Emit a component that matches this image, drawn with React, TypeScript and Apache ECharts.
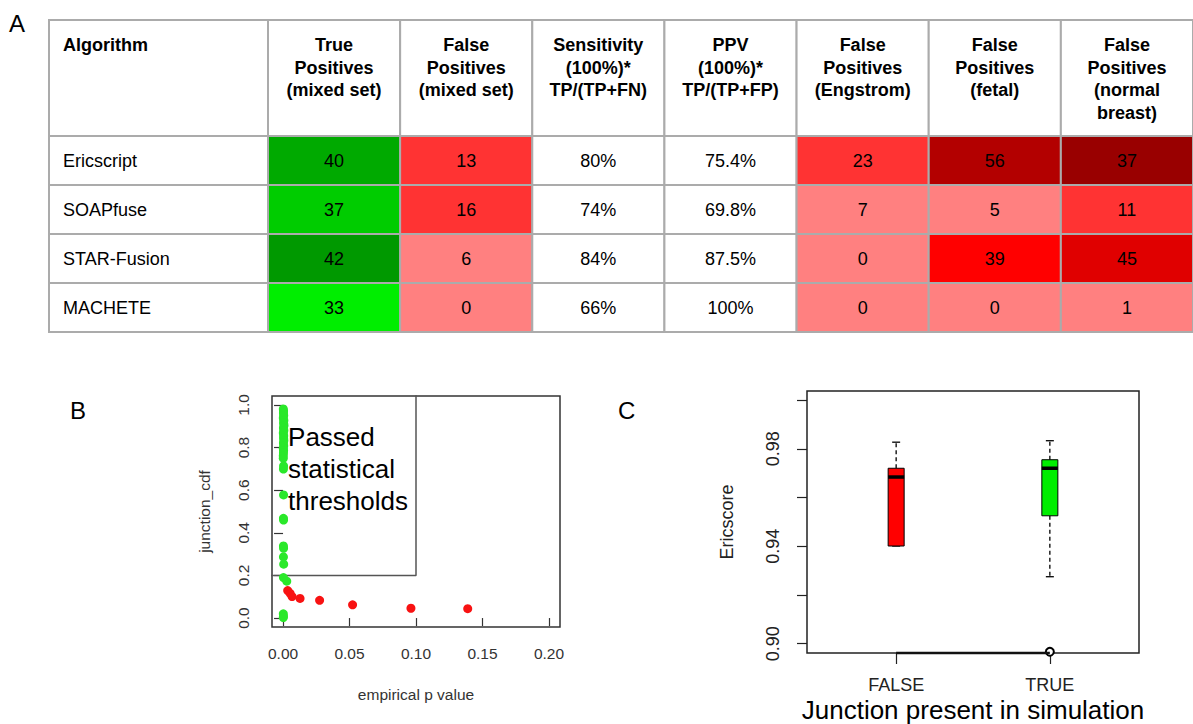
import React, { useEffect, useRef } from "react";
import * as echarts from "echarts";

// ---------- Panel A: table ----------
const algorithms = ["Ericscript", "SOAPfuse", "STAR-Fusion", "MACHETE"];
const algorithmHeader = "Algorithm";
const metricHeaders = [
  "True\nPositives\n(mixed set)",
  "False\nPositives\n(mixed set)",
  "Sensitivity\n(100%)*\nTP/(TP+FN)",
  "PPV\n(100%)*\nTP/(TP+FP)",
  "False\nPositives\n(Engstrom)",
  "False\nPositives\n(fetal)",
  "False\nPositives\n(normal\nbreast)",
];
const truePositives = [40, 37, 42, 33];
const falsePositives = [13, 16, 6, 0];
const sensitivity = [80, 74, 84, 66];
const ppv = [75.4, 69.8, 87.5, 100];
const fpEngstrom = [23, 7, 0, 0];
const fpFetal = [56, 5, 39, 0];
const fpNormalBreast = [37, 11, 45, 1];
const percentColumns = [2, 3];

// cell fill colours (style only), one list per metric column
const cellColors = [
  ["#00aa00", "#00cc00", "#009900", "#00ee00"],
  ["#ff3333", "#ff3333", "#ff8080", "#ff8080"],
  ["#ffffff", "#ffffff", "#ffffff", "#ffffff"],
  ["#ffffff", "#ffffff", "#ffffff", "#ffffff"],
  ["#ff3333", "#ff8080", "#ff8080", "#ff8080"],
  ["#b30000", "#ff8080", "#ff0000", "#ff8080"],
  ["#990000", "#ff3333", "#e00000", "#ff8080"],
];

// ---------- Panel B: scatter ----------
const passedPoints: [number, number][] = [
  [0.0002, 0.981], [0.0004, 0.972], [0.0003, 0.962], [0.0005, 0.951],
  [0.0002, 0.939], [0.0006, 0.927], [0.0004, 0.915], [0.0007, 0.903],
  [0.0003, 0.892], [0.0006, 0.880], [0.0002, 0.868], [0.0005, 0.856],
  [0.0004, 0.845], [0.0006, 0.833], [0.0003, 0.821], [0.0005, 0.809],
  [0.0002, 0.797], [0.0004, 0.786], [0.0003, 0.774], [0.0002, 0.762],
  [0.0002, 0.750], [0.0004, 0.714], [0.0003, 0.699], [0.0004, 0.578],
  [0.0003, 0.468], [0.0004, 0.460], [0.0003, 0.338], [0.0004, 0.327],
  [0.0003, 0.287], [0.0005, 0.253], [0.0003, 0.190], [0.0028, 0.173],
  [0.0002, 0.020], [0.0003, 0.008], [0.0002, 0.002],
];
const failedPoints: [number, number][] = [
  [0.0035, 0.129], [0.0053, 0.116], [0.0068, 0.101], [0.0128, 0.092],
  [0.0275, 0.083], [0.0523, 0.062], [0.0962, 0.046], [0.1389, 0.044],
];
const thresholdP = 0.1;
const thresholdCdf = 0.2;
const pTicks = [0, 0.05, 0.1, 0.15, 0.2];
const cdfTicks = [0, 0.2, 0.4, 0.6, 0.8, 1.0];

// ---------- Panel C: boxplot ----------
const groups = ["FALSE", "TRUE"];
// [position, lower whisker, Q1, median, Q3, upper whisker]
const boxStats = [
  [1, 0.9401, 0.9401, 0.9684, 0.972, 0.9827],
  [2, 0.9275, 0.9525, 0.972, 0.9755, 0.9833],
];
const outliers: [number, number][] = [[2, 0.8967]];
const scoreTicks = [0.9, 0.92, 0.94, 0.96, 0.98, 1.0];
const scoreLabels = [0.9, 0.94, 0.98];
const boxColors = ["#ff0000", "#00ee00"];

const FONT = "'Liberation Sans', Arial, Helvetica, sans-serif";
const BORDER = "#ababab";

type CellText = { text: string; bold?: boolean; place: "center" | "top" | "topLeft" | "left" };

function cellRenderer(getFill: (d: number[]) => string, getText: (d: number[]) => CellText) {
  return (params: any, api: any) => {
    const c = api.value(0);
    const r = api.value(1);
    const d = [c, r, api.value(2)];
    const center = api.coord([c, r]);
    const size = api.size([1, 1]);
    const w = size[0];
    const h = size[1];
    const x0 = center[0] - w / 2;
    const y0 = center[1] - h / 2;
    const t = getText(d);
    const pad = 14;
    let tx = center[0];
    let ty = center[1];
    let align = "center";
    let vAlign = "middle";
    if (t.place === "top") { ty = y0 + pad; vAlign = "top"; }
    if (t.place === "topLeft") { tx = x0 + pad; ty = y0 + pad; vAlign = "top"; align = "left"; }
    if (t.place === "left") { tx = x0 + pad; align = "left"; }
    return {
      type: "group",
      children: [
        {
          type: "rect",
          shape: { x: x0, y: y0, width: w, height: h },
          style: { fill: getFill(d), stroke: BORDER, lineWidth: 2 },
        },
        {
          type: "text",
          x: tx, y: ty,
          style: {
            text: t.text, fill: "#000", fontSize: 18, fontFamily: FONT,
            fontWeight: t.bold ? "bold" : "normal", lineHeight: 22.5,
            align, verticalAlign: vAlign,
          },
        },
      ],
    };
  };
}

export default function App() {
  const ref = useRef<HTMLDivElement>(null);

  useEffect(() => {
    document.body.style.margin = "0";
    const chart = echarts.init(ref.current!, null, { renderer: "svg" });

    const metricColumns = [
      truePositives, falsePositives, sensitivity, ppv,
      fpEngstrom, fpFetal, fpNormalBreast,
    ];
    const bodyData: number[][] = [];
    metricColumns.forEach((col, c) => {
      col.forEach((v, r) => bodyData.push([c, r, v]));
    });

    const option: any = {
      animation: false,
      textStyle: { fontFamily: FONT },
      grid: [
        { left: 268, top: 20, width: 938, height: 116, show: false },
        { left: 268, top: 136, width: 938, height: 196, show: false },
        { left: 49, top: 20, width: 219, height: 116, show: false },
        { left: 49, top: 136, width: 219, height: 196, show: false },
        { left: 272, top: 396, width: 288, height: 231, show: true, borderColor: "#333", borderWidth: 1.5, backgroundColor: "transparent" },
        { left: 807, top: 391, width: 332, height: 264, show: true, borderColor: "#222", borderWidth: 1.5, backgroundColor: "transparent" },
      ],
      xAxis: [
        { type: "category", gridIndex: 0, data: metricHeaders, show: false },
        { type: "category", gridIndex: 1, data: metricHeaders, show: false },
        { type: "category", gridIndex: 2, data: [algorithmHeader], show: false },
        { type: "category", gridIndex: 3, data: [algorithmHeader], show: false },
        {
          type: "value", gridIndex: 4, min: -0.0083, max: 0.2083,
          axisLine: { show: false }, splitLine: { show: false },
          axisTick: { show: true, length: 8, customValues: pTicks, lineStyle: { color: "#333", width: 1.2 } },
          axisLabel: { customValues: pTicks, formatter: (v: number) => v.toFixed(2), fontSize: 15.5, color: "#333", margin: 18 },
          name: "empirical p value", nameLocation: "middle", nameGap: 59,
          nameTextStyle: { fontSize: 15.5, color: "#333" },
        },
        {
          type: "value", gridIndex: 5, min: 0.42, max: 2.58,
          axisLine: { show: false }, splitLine: { show: false },
          axisTick: { show: true, length: 11, customValues: [1, 2], lineStyle: { color: "#222", width: 1.2 } },
          axisLabel: { customValues: [1, 2], formatter: (v: number) => groups[Math.round(v) - 1], fontSize: 18, color: "#222", margin: 23 },
          name: "Junction present in simulation", nameLocation: "middle", nameGap: 44,
          nameTextStyle: { fontSize: 26, color: "#000" },
        },
      ],
      yAxis: [
        { type: "category", gridIndex: 0, data: ["header"], show: false },
        { type: "category", gridIndex: 1, data: algorithms, inverse: true, show: false },
        { type: "category", gridIndex: 2, data: ["header"], show: false },
        { type: "category", gridIndex: 3, data: algorithms, inverse: true, show: false },
        {
          type: "value", gridIndex: 4, min: -0.042, max: 1.042,
          axisLine: { show: false }, splitLine: { show: false },
          axisTick: { show: true, length: 9, customValues: cdfTicks, lineStyle: { color: "#333", width: 1.2 } },
          axisLabel: { customValues: cdfTicks, formatter: (v: number) => v.toFixed(1), rotate: 90, fontSize: 15.5, color: "#333", margin: 21 },
          name: "junction_cdf", nameLocation: "middle", nameGap: 60,
          nameTextStyle: { fontSize: 15.5, color: "#333" },
        },
        {
          type: "value", gridIndex: 5, min: 0.8962, max: 1.0037,
          axisLine: { show: false }, splitLine: { show: false },
          axisTick: { show: true, length: 10, customValues: scoreTicks, lineStyle: { color: "#222", width: 1.2 } },
          axisLabel: { customValues: scoreLabels, formatter: (v: number) => v.toFixed(2), rotate: 90, fontSize: 18, color: "#222", margin: 25 },
          name: "Ericscore", nameLocation: "middle", nameGap: 71,
          nameTextStyle: { fontSize: 18, color: "#222" },
        },
      ],
      series: [
        {
          type: "custom", xAxisIndex: 0, yAxisIndex: 0, silent: true,
          data: metricHeaders.map((_, i) => [i, 0, 0]),
          renderItem: cellRenderer(() => "#ffffff", (d) => ({ text: metricHeaders[d[0]], bold: true, place: "top" })),
        },
        {
          type: "custom", xAxisIndex: 1, yAxisIndex: 1, silent: true,
          data: bodyData,
          renderItem: cellRenderer(
            (d) => cellColors[d[0]][d[1]],
            (d) => ({ text: percentColumns.includes(d[0]) ? `${d[2]}%` : String(d[2]), place: "center" }),
          ),
        },
        {
          type: "custom", xAxisIndex: 2, yAxisIndex: 2, silent: true,
          data: [[0, 0, 0]],
          renderItem: cellRenderer(() => "#ffffff", () => ({ text: algorithmHeader, bold: true, place: "topLeft" })),
        },
        {
          type: "custom", xAxisIndex: 3, yAxisIndex: 3, silent: true,
          data: algorithms.map((_, r) => [0, r, 0]),
          renderItem: cellRenderer(() => "#ffffff", (d) => ({ text: algorithms[d[1]], place: "left" })),
        },
        // Panel B
        {
          type: "line", xAxisIndex: 4, yAxisIndex: 4,
          data: [[-1, thresholdCdf], [thresholdP, thresholdCdf], [thresholdP, 2]],
          showSymbol: false, symbol: "none", clip: true,
          lineStyle: { color: "#555", width: 1.5 }, silent: true, z: 1,
        },
        {
          type: "scatter", xAxisIndex: 4, yAxisIndex: 4, data: passedPoints,
          symbolSize: 9, itemStyle: { color: "#2ae82a", opacity: 1 }, silent: true, z: 2,
        },
        {
          type: "scatter", xAxisIndex: 4, yAxisIndex: 4, data: failedPoints,
          symbolSize: 9, itemStyle: { color: "#f81212", opacity: 1 }, silent: true, z: 2,
        },
        {
          type: "scatter", xAxisIndex: 4, yAxisIndex: 4, data: [[0, 0.70]],
          symbolSize: 0, silent: true, z: 3, itemStyle: { opacity: 1 },
          label: {
            show: true, position: "right", distance: 5,
            formatter: "Passed\nstatistical\nthresholds",
            fontSize: 26, lineHeight: 32, color: "#000", opacity: 1, align: "left", verticalAlign: "middle",
          },
        },
        // Panel C
        {
          type: "custom", xAxisIndex: 5, yAxisIndex: 5, data: boxStats, silent: true, z: 2,
          renderItem: (params: any, api: any) => {
            const x = api.value(0);
            const lo = api.coord([x, api.value(1)]);
            const q1 = api.coord([x, api.value(2)]);
            const med = api.coord([x, api.value(3)]);
            const q3 = api.coord([x, api.value(4)]);
            const hi = api.coord([x, api.value(5)]);
            const half = api.size([0.104, 0])[0] / 2;
            const cap = half / 2;
            const cx = q1[0];
            const dash = { stroke: "#000", lineWidth: 1.3, lineDash: [4, 3] };
            const solid = { stroke: "#000", lineWidth: 1.3 };
            return {
              type: "group",
              children: [
                { type: "line", shape: { x1: cx, y1: q3[1], x2: cx, y2: hi[1] }, style: dash },
                { type: "line", shape: { x1: cx, y1: q1[1], x2: cx, y2: lo[1] }, style: dash },
                { type: "line", shape: { x1: cx - cap, y1: hi[1], x2: cx + cap, y2: hi[1] }, style: solid },
                { type: "line", shape: { x1: cx - cap, y1: lo[1], x2: cx + cap, y2: lo[1] }, style: solid },
                {
                  type: "rect",
                  shape: { x: cx - half, y: q3[1], width: half * 2, height: q1[1] - q3[1] },
                  style: { fill: boxColors[params.dataIndex], stroke: "#000", lineWidth: 1 },
                },
                { type: "line", shape: { x1: cx - half, y1: med[1], x2: cx + half, y2: med[1] }, style: { stroke: "#000", lineWidth: 3.5 } },
              ],
            };
          },
        },
        {
          type: "scatter", xAxisIndex: 5, yAxisIndex: 5, data: outliers,
          symbol: "emptyCircle", symbolSize: 8, itemStyle: { color: "#000", borderWidth: 1.3, opacity: 1 }, silent: true, z: 3,
        },
        {
          type: "line", xAxisIndex: 5, yAxisIndex: 5,
          data: [[1, 0.8962], [2, 0.8962]], showSymbol: false, symbol: "none",
          lineStyle: { color: "#111", width: 2.5 }, silent: true, z: 4, clip: false,
        },
      ],
      graphic: [
        { type: "text", left: 9, top: 11, style: { text: "A", fontSize: 24, fill: "#000", fontFamily: FONT } },
        { type: "text", left: 70, top: 398, style: { text: "B", fontSize: 24, fill: "#000", fontFamily: FONT } },
        { type: "text", left: 618, top: 398, style: { text: "C", fontSize: 24, fill: "#000", fontFamily: FONT } },
      ],
    };

    chart.setOption(option);
    return () => chart.dispose();
  }, []);

  return <div ref={ref} style={{ width: 1193, height: 724 }} />;
}
